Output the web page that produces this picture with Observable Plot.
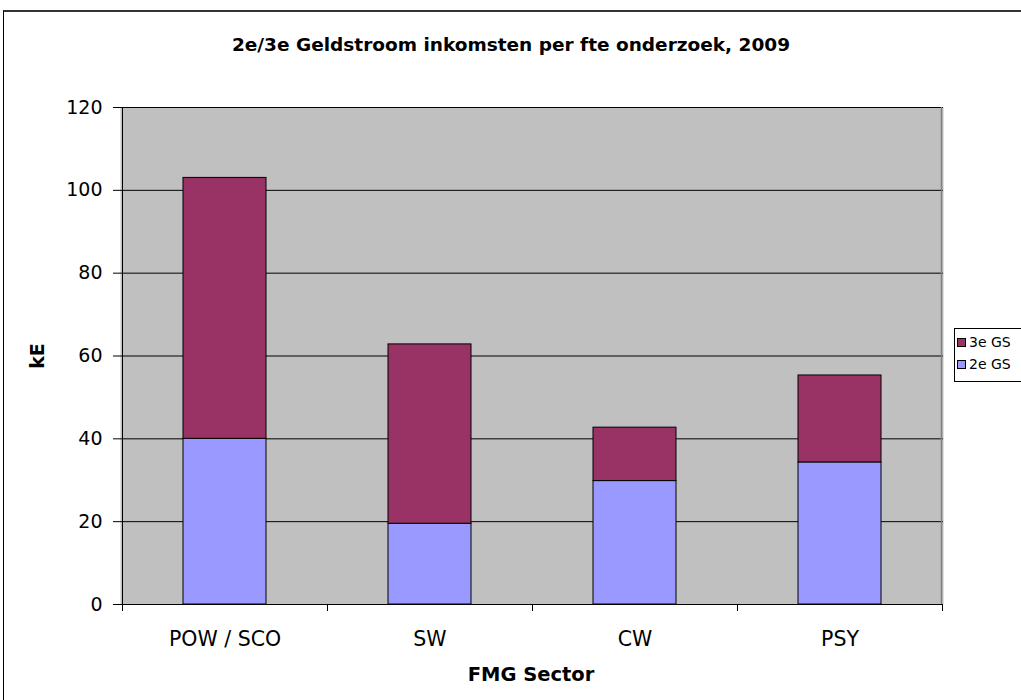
<!DOCTYPE html>
<html>
<head>
<meta charset="utf-8">
<script src="https://cdn.jsdelivr.net/npm/d3@7"></script>
<script src="https://cdn.jsdelivr.net/npm/@observablehq/plot@0.6"></script>
<style>
  html, body { margin: 0; padding: 0; background: #fff; overflow: hidden; }
  #wrap { position: relative; width: 1021px; height: 700px; overflow: hidden; font-family: "DejaVu Sans", sans-serif; color: #000; }
  #border { position: absolute; left: 3px; top: 10px; width: 1100px; height: 800px; border-left: 1px solid #000; border-top: 2px solid #333; }
  #chart { position: absolute; left: 0; top: 0; }
  .lbl { position: absolute; font-weight: bold; white-space: nowrap; line-height: 1; }
  #title { left: 511px; top: 36px; font-size: 18.5px; transform: translateX(-50%); }
  #ylab { left: 37px; top: 356px; font-size: 19px; transform: translate(-50%, -50%) rotate(-90deg); }
  #xlab { left: 531px; top: 665px; font-size: 19.5px; transform: translateX(-50%); }
  #legend { position: absolute; left: 954px; top: 328px; width: 120px; height: 52px; border: 1px solid #000; background: #fff; font-size: 14px; }
  .item { position: absolute; left: 2px; height: 14px; line-height: 14px; white-space: nowrap; }
  .sw { display: inline-block; width: 7px; height: 7px; border: 1px solid #000; vertical-align: middle; margin-right: 3px; position: relative; top: -1px; }
</style>
</head>
<body>
<div id="wrap">
  <div id="border"></div>
  <div id="chart"></div>
  <div class="lbl" id="title"></div>
  <div class="lbl" id="ylab"></div>
  <div class="lbl" id="xlab"></div>
  <div id="legend"></div>
</div>
<script>
// ---- data ----
const categories = ["POW / SCO", "SW", "CW", "PSY"];
const series = ["2e GS", "3e GS"];
const geld2 = [40.0, 19.5, 29.8, 34.3];
const geld3 = [63.0, 43.3, 12.9, 21.0];
const yTicks = [0, 20, 40, 60, 80, 100, 120];
const colors = ["#9999ff", "#993366"];
const titleText = "2e/3e Geldstroom inkomsten per fte onderzoek, 2009";
const yLabel = "kE";
const xLabel = "FMG Sector";

// ---- table ----
const values = [geld2, geld3];
const rows = categories.flatMap((c, i) => series.map((s, j) => ({cat: c, s, v: values[j][i]})));

const chart = Plot.plot({
  width: 1021,
  height: 700,
  marginLeft: 120,
  marginRight: 78,
  marginTop: 107,
  marginBottom: 96,
  style: {fontFamily: "DejaVu Sans, sans-serif", fontSize: "19px", color: "#000", background: "transparent"},
  x: {domain: categories, padding: 0, label: null},
  y: {domain: [0, 120], label: null},
  color: {domain: series, range: colors},
  marks: [
    Plot.frame({fill: "#c0c0c0"}),
    Plot.ruleY(yTicks, {stroke: "#000", strokeWidth: 1}),
    Plot.barY(rows, {x: "cat", y: "v", fill: "s", stroke: "#000", strokeWidth: 1, insetLeft: 61, insetRight: 61}),
    Plot.axisY(yTicks, {tickSize: 7, tickPadding: 11, label: null, stroke: "#000", tickFormat: d => String(d)}),
    Plot.axisX({tickSize: 0, tickPadding: 27, label: null, fontSize: 20.5})
  ]
});

// boundary ticks, y-axis line and right edge, positioned from Plot's own scales
const xs = chart.scale("x");
const ys = chart.scale("y");
const bw = xs.bandwidth;
const y0 = ys.apply(0), yTop = ys.apply(120);
const bounds = categories.map(c => xs.apply(c)).concat([xs.apply(categories[categories.length - 1]) + bw]);
const svg = d3.select(chart);
const g = svg.append("g").attr("stroke", "#000").attr("stroke-width", 1);
g.selectAll("line.b").data(bounds).join("line")
  .attr("x1", d => Math.round(d) + 0.5).attr("x2", d => Math.round(d) + 0.5)
  .attr("y1", y0).attr("y2", y0 + 7);
g.append("line").attr("x1", Math.round(bounds[0]) + 0.5).attr("x2", Math.round(bounds[0]) + 0.5)
  .attr("y1", yTop).attr("y2", y0);
svg.append("line").attr("stroke", "#808080").attr("stroke-width", 1.5)
  .attr("x1", Math.round(bounds[bounds.length - 1]) - 0.5).attr("x2", Math.round(bounds[bounds.length - 1]) - 0.5)
  .attr("y1", yTop).attr("y2", y0);

document.getElementById("chart").appendChild(chart);
document.getElementById("title").textContent = titleText;
document.getElementById("ylab").textContent = yLabel;
document.getElementById("xlab").textContent = xLabel;

// legend (3e on top like the original)
const legend = d3.select("#legend");
[...series].reverse().forEach((s, k) => {
  const it = legend.append("div").attr("class", "item").style("top", (6 + k * 22) + "px");
  it.append("span").attr("class", "sw").style("background", colors[series.indexOf(s)]);
  it.append("span").text(s);
});
</script>
</body>
</html>
